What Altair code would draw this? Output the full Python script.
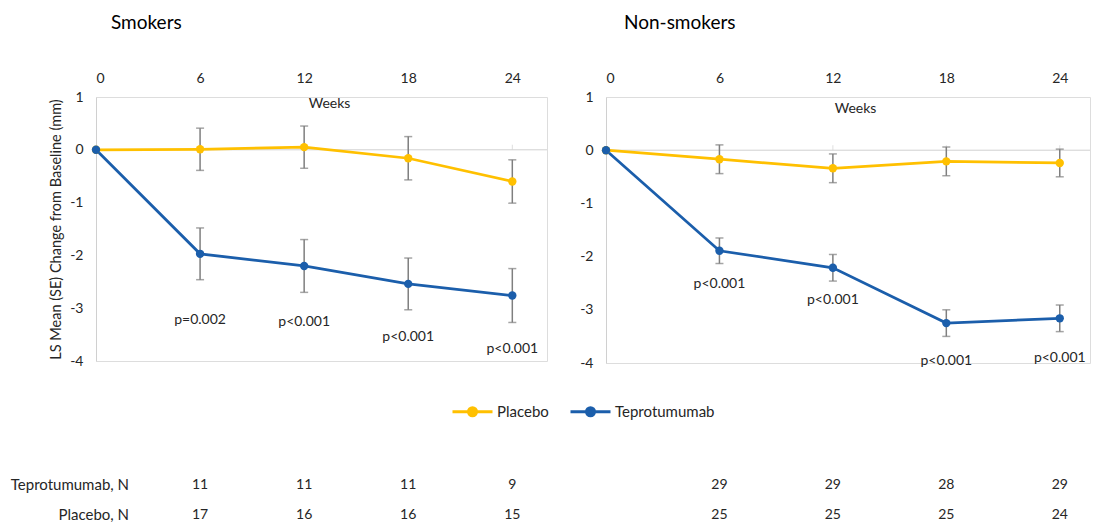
import altair as alt
import pandas as pd

# ---- data -------------------------------------------------------------
weeks = [0, 6, 12, 18, 24]
series_names = ["Placebo", "Teprotumumab"]

# Smokers: LS mean change from baseline (mm) and SE
smk_placebo = [0.0, 0.01, 0.05, -0.16, -0.60]
smk_placebo_se = [0.0, 0.40, 0.40, 0.41, 0.41]
smk_tepro = [0.0, -1.97, -2.20, -2.54, -2.76]
smk_tepro_se = [0.0, 0.49, 0.50, 0.49, 0.51]
smk_pvals = ["p=0.002", "p<0.001", "p<0.001", "p<0.001"]
smk_tepro_n = [11, 11, 11, 9]
smk_placebo_n = [17, 16, 16, 15]

# Non-smokers
non_placebo = [0.0, -0.17, -0.34, -0.21, -0.24]
non_placebo_se = [0.0, 0.27, 0.27, 0.27, 0.26]
non_tepro = [0.0, -1.89, -2.21, -3.25, -3.16]
non_tepro_se = [0.0, 0.24, 0.25, 0.25, 0.25]
non_pvals = ["p<0.001", "p<0.001", "p<0.001", "p<0.001"]
non_tepro_n = [29, 29, 28, 29]
non_placebo_n = [25, 25, 25, 24]

# ---- styling ----------------------------------------------------------
YELLOW = "#FFC000"
BLUE = "#1B5EAB"
ERR_GREY = "#7F7F7F"
AXIS_GREY = "#D0D0D0"
TEXT = "#262626"
FONT = "Lato"

# anchor heights (in mm units) for the p-value annotations
smk_p_anchor = [-3.23, -3.27, -3.54, -3.78]
non_p_anchor = [-2.52, -2.82, -3.97, -3.90]

color = alt.Color(
    "series:N",
    scale=alt.Scale(domain=series_names, range=[YELLOW, BLUE]),
    legend=alt.Legend(
        orient="none",
        legendX=355,
        legendY=293,
        direction="horizontal",
        title=None,
        symbolType="M-1,0L1,0M0.2,0A0.2,0.2,0,1,1,-0.2,0A0.2,0.2,0,1,1,0.2,0Z",
        symbolSize=1600,
        symbolStrokeWidth=3,
        labelFontSize=15,
        labelFont=FONT,
        labelColor=TEXT,
        labelOffset=3,
        columnPadding=15,
        padding=0,
    ),
)


def panel(title, title_dx, placebo, placebo_se, tepro, tepro_se, pvals,
          p_anchor, tepro_n, placebo_n, width, height, xmax,
          weeks_x, weeks_y, y_title, row_labels):
    means = pd.DataFrame({
        "week": weeks * 2,
        "value": placebo + tepro,
        "se": placebo_se + tepro_se,
        "series": ["Placebo"] * len(weeks) + ["Teprotumumab"] * len(weeks),
    })
    err = means[means["se"] > 0].copy()
    err["lo"] = err["value"] - err["se"]
    err["hi"] = err["value"] + err["se"]

    x = alt.X(
        "week:Q",
        scale=alt.Scale(domain=[0, xmax], nice=False, zero=False),
        axis=alt.Axis(
            orient="top", values=weeks, grid=False, domain=False, ticks=False,
            labelPadding=12, labelFontSize=14, labelColor=TEXT,
            title="Weeks", titleX=weeks_x, titleY=weeks_y,
            titleBaseline="middle", titleAlign="center",
            titleFontSize=14, titleFontWeight="normal", titleColor=TEXT,
        ),
    )
    yscale = alt.Scale(domain=[-4, 1], nice=False, zero=False)
    yaxis = alt.Axis(
        values=[1, 0, -1, -2, -3, -4], grid=False, ticks=False,
        domainColor=AXIS_GREY, domainWidth=1,
        labelPadding=13, labelFontSize=14, labelColor=TEXT,
        labelExpr="'' + datum.value",
        title=y_title, titleFontSize=14.5, titleFontWeight="normal",
        titleColor=TEXT, titlePadding=6,
    )

    def y(field):
        return alt.Y(field, scale=yscale, axis=yaxis)

    zero_line = alt.Chart(
        pd.DataFrame({"week": [0], "week2": [xmax], "value": [0]})
    ).mark_rule(color=AXIS_GREY, strokeWidth=1).encode(
        x=x, x2="week2:Q", y=y("value:Q"))

    zero_ticks = alt.Chart(
        pd.DataFrame({"week": weeks[1:], "value": [0] * (len(weeks) - 1)})
    ).mark_tick(orient="vertical", size=5, thickness=1, yOffset=-2.5,
                color=AXIS_GREY).encode(x=x, y=y("value:Q"))

    bars = alt.Chart(err).mark_errorbar(
        ticks={"size": 8}, color=ERR_GREY, thickness=1.5
    ).encode(x=x, y=y("lo:Q"), y2="hi:Q", detail="series:N")

    lines = alt.Chart(means).mark_line(strokeWidth=2.75).encode(
        x=x, y=y("value:Q"), color=color)
    dots = alt.Chart(means).mark_point(filled=True, size=70, opacity=1).encode(
        x=x, y=y("value:Q"), color=color)

    plab = alt.Chart(pd.DataFrame({
        "week": weeks[1:], "pv": p_anchor, "label": pvals,
    })).mark_text(fontSize=14, color=TEXT, font=FONT).encode(
        x=x, y=y("pv:Q"), text="label:N")

    nd = pd.DataFrame({"week": weeks[1:], "tn": tepro_n, "pn": placebo_n})
    n_t = alt.Chart(nd).mark_text(fontSize=14, color=TEXT, font=FONT).encode(
        x=x, y=alt.value(388), text="tn:Q")
    n_p = alt.Chart(nd).mark_text(fontSize=14, color=TEXT, font=FONT).encode(
        x=x, y=alt.value(418), text="pn:Q")

    layers = [zero_line, zero_ticks, bars, lines, dots, plab, n_t, n_p]
    if row_labels:
        rl = pd.DataFrame({"label": ["Teprotumumab, N", "Placebo, N"],
                           "row": [388, 418]})
        layers.append(
            alt.Chart(rl).mark_text(align="right", fontSize=15, color=TEXT,
                                    font=FONT).encode(
                x=alt.value(33), y=alt.Y("row:Q", scale=None), text="label:N"))

    return alt.layer(*layers).properties(
        width=width, height=height,
        title=alt.TitleParams(title, anchor="start", frame="group", dx=title_dx,
                              fontSize=19, fontWeight="normal", color="#000000",
                              font=FONT, offset=38),
    )


left = panel("Smokers", 15, smk_placebo, smk_placebo_se, smk_tepro,
             smk_tepro_se, smk_pvals, smk_p_anchor, smk_tepro_n,
             smk_placebo_n, 451, 264, 26, 233, 6,
             "LS Mean (SE) Change from Baseline (mm)", True)
right = panel("Non-smokers", 18, non_placebo, non_placebo_se, non_tepro,
              non_tepro_se, non_pvals, non_p_anchor, non_tepro_n,
              non_placebo_n, 484, 266, 25.6, 249, 11, None, False)

chart = alt.hconcat(left, right, spacing=31).properties(
    padding={"left": 10, "top": 13, "right": 0, "bottom": 0},
).configure_view(stroke=None).configure(font=FONT)

chart.save("out.html", embed_options={"renderer": "svg", "actions": False})
